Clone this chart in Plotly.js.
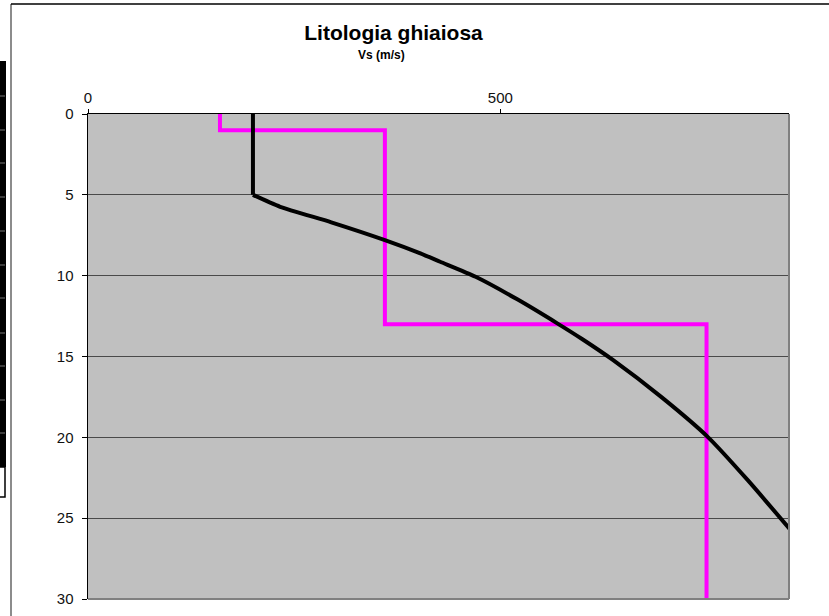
<!DOCTYPE html>
<html>
<head>
<meta charset="utf-8">
<script src="https://cdn.plot.ly/plotly-3.0.1.min.js"></script>
<style>html,body{margin:0;padding:0;background:#fff;}#chart{width:829px;height:616px;}</style>
</head>
<body>
<div id="chart"></div>
<script>
// Data
const profileVs    = [160, 160, 360, 360, 750, 750];
const profileDepth = [0, 1, 1, 13, 13, 30];
const topVs        = [200, 200];
const topDepth     = [0, 5];
const curveVs      = [200, 233, 295, 360, 403, 427, 470, 520, 569, 600, 636, 695, 752, 800, 853];
const curveDepth   = [5, 5.74, 6.7, 7.8, 8.62, 9.14, 10.07, 11.45, 12.95, 13.95, 15.2, 17.5, 20.0, 22.65, 25.8];
const xTicks = [0, 500];
const yTicks = [0, 5, 10, 15, 20, 25, 30];

const W = 829, H = 616, L = 88, R = 40, T = 114, B = 17;
const pw = W - L - R, ph = H - T - B;
const px = p => (p - L) / pw;
const py = p => (H - B - p) / ph;
const FONT = 'Liberation Sans, Arial, sans-serif';

const traces = [
  {x: profileVs, y: profileDepth, mode: 'lines', line: {color: '#ff00ff', width: 4}, hoverinfo: 'x+y'},
  {x: topVs, y: topDepth, mode: 'lines', line: {color: '#000000', width: 4}, hoverinfo: 'x+y'},
  {x: curveVs, y: curveDepth, mode: 'lines', line: {color: '#000000', width: 4, shape: 'spline', smoothing: 0.6}, hoverinfo: 'x+y'}
];

const shapes = [
  {type: 'line', xref: 'paper', yref: 'paper', x0: 1, x1: 1, y0: 0, y1: 1, line: {color: '#808080', width: 2}},
  {type: 'line', xref: 'paper', yref: 'paper', x0: 0, x1: 1, y0: 0, y1: 0, line: {color: '#808080', width: 2}},
  {type: 'line', xref: 'paper', yref: 'paper', x0: px(11), x1: px(11), y0: py(4), y1: py(620), line: {color: '#8c8c8c', width: 2}},
  {type: 'line', xref: 'paper', yref: 'paper', x0: px(11), x1: px(835), y0: py(4), y1: py(4), line: {color: '#000000', width: 1.5}},
  {type: 'rect', xref: 'paper', yref: 'paper', x0: px(-5), x1: px(6), y0: py(467), y1: py(61), fillcolor: '#000', line: {width: 0}},
  {type: 'rect', xref: 'paper', yref: 'paper', x0: px(-5), x1: px(5), y0: py(497), y1: py(467), fillcolor: 'rgba(0,0,0,0)', line: {color: '#000', width: 1.5}}
];
[96, 130, 163, 197, 231, 265, 298, 333, 366, 400, 433].forEach(y => {
  shapes.push({type: 'line', xref: 'paper', yref: 'paper', x0: px(0), x1: px(5), y0: py(y), y1: py(y), line: {color: '#777', width: 1}});
});

const layout = {
  width: W, height: H,
  margin: {l: L, r: R, t: T, b: B, pad: 0},
  paper_bgcolor: '#ffffff',
  plot_bgcolor: '#c0c0c0',
  showlegend: false,
  font: {family: FONT, color: '#000'},
  title: {
    text: '<b>Litologia ghiaiosa</b>',
    font: {family: FONT, size: 21, color: '#000'},
    x: 393.5 / W, xanchor: 'center', xref: 'container',
    y: 1 - 33 / H, yanchor: 'middle', yref: 'container'
  },
  annotations: [{
    text: '<b>Vs (m/s)</b>', xref: 'paper', yref: 'paper',
    x: px(381), y: py(55), xanchor: 'center', yanchor: 'middle',
    showarrow: false, font: {family: FONT, size: 12, color: '#000'}
  }],
  xaxis: {
    side: 'top', range: [0, 850], tickvals: xTicks, ticktext: xTicks.map(String),
    showgrid: false, zeroline: false,
    showline: true, linecolor: '#000', linewidth: 1.5,
    ticks: 'outside', ticklen: 4, tickcolor: '#000', tickwidth: 1,
    tickfont: {family: FONT, size: 15, color: '#111'}
  },
  yaxis: {
    range: [30, 0], tickvals: yTicks, ticktext: yTicks.map(String),
    showgrid: true, gridcolor: '#4a4a4a', gridwidth: 1, zeroline: false,
    showline: true, linecolor: '#000', linewidth: 1.5,
    ticks: 'outside', ticklen: 5, tickcolor: '#000', tickwidth: 1,
    ticklabelstandoff: 5,
    tickfont: {family: FONT, size: 15, color: '#111'}
  },
  shapes: shapes
};

Plotly.newPlot('chart', traces, layout, {displayModeBar: false, staticPlot: true});
</script>
</body>
</html>
